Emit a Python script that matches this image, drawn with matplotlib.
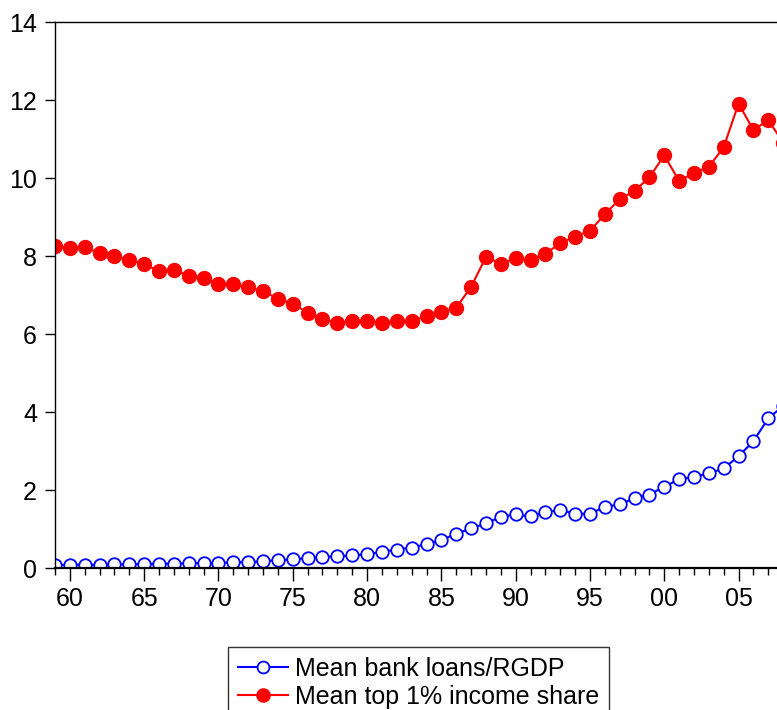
import numpy as np
import matplotlib.pyplot as plt
from matplotlib.ticker import MultipleLocator, FuncFormatter

plt.rcParams['font.family'] = ['Liberation Sans', 'DejaVu Sans']

# years 1959-2008 (2008 lies just past the cropped right edge)
years = list(range(1959, 2009))

# Mean bank loans/RGDP
loans = [0.08, 0.09, 0.09, 0.09, 0.10, 0.10, 0.11, 0.12, 0.12, 0.13,
         0.14, 0.14, 0.15, 0.16, 0.18, 0.21, 0.23, 0.26, 0.29, 0.31,
         0.33, 0.36, 0.42, 0.48, 0.53, 0.62, 0.72, 0.89, 1.02, 1.15,
         1.32, 1.38, 1.33, 1.44, 1.49, 1.40, 1.40, 1.57, 1.64, 1.79,
         1.89, 2.09, 2.28, 2.34, 2.43, 2.56, 2.87, 3.26, 3.84, 4.16]

# Mean top 1% income share
top1 = [8.26, 8.20, 8.23, 8.07, 8.00, 7.91, 7.79, 7.62, 7.64, 7.50,
        7.45, 7.28, 7.28, 7.20, 7.10, 6.91, 6.78, 6.55, 6.38, 6.29,
        6.34, 6.35, 6.29, 6.34, 6.34, 6.46, 6.57, 6.68, 7.21, 7.98,
        7.81, 7.94, 7.90, 8.05, 8.34, 8.50, 8.65, 9.07, 9.46, 9.67,
        10.02, 10.58, 9.93, 10.13, 10.29, 10.79, 11.91, 11.23, 11.49, 10.91]

fig = plt.figure(figsize=(7.77, 7.10), dpi=100)
# axes run past the right edge of the picture, as in the original crop
ax = fig.add_axes([55/777, 1-568.3/710, 743/777, 546.3/710])

ax.plot(years, loans, color='#0000FF', lw=1.5, marker='o', ms=9,
        mfc='white', mec='#0000FF', mew=1.3, label='Mean bank loans/RGDP')
ax.plot(years, top1, color='#FF0000', lw=1.5, marker='o', ms=10,
        mfc='#FF0000', mec='#FF0000', label='Mean top 1% income share')

ax.set_xlim(1959, 2009)
ax.set_ylim(0, 14)
ax.set_yticks(range(0, 15, 2))
ax.xaxis.set_major_locator(MultipleLocator(5))
ax.xaxis.set_minor_locator(MultipleLocator(1))
ax.xaxis.set_major_formatter(FuncFormatter(lambda v, p: '%02d' % (int(round(v)) % 100)))

ax.tick_params(axis='y', direction='out', length=7, width=1, labelsize=18, pad=6)
ax.tick_params(axis='x', which='major', direction='out', length=9, width=1, labelsize=18, pad=4.5)
ax.tick_params(axis='x', which='minor', direction='out', length=5, width=1)

ax.spines['right'].set_visible(False)
ax.spines['top'].set_linewidth(1.0)
ax.spines['left'].set_linewidth(1.0)
ax.spines['bottom'].set_linewidth(1.6)

leg = fig.legend(loc='upper left', bbox_to_anchor=(228/777, 1-647/710),
                 bbox_transform=fig.transFigure, borderaxespad=0,
                 fontsize=18, frameon=True, fancybox=False, edgecolor='black',
                 handlelength=2.0, handletextpad=0.3, labelspacing=0.18,
                 borderpad=0.38, markerscale=0.95)
leg.get_frame().set_linewidth(1.0)

fig.savefig('out.png', dpi=100)
